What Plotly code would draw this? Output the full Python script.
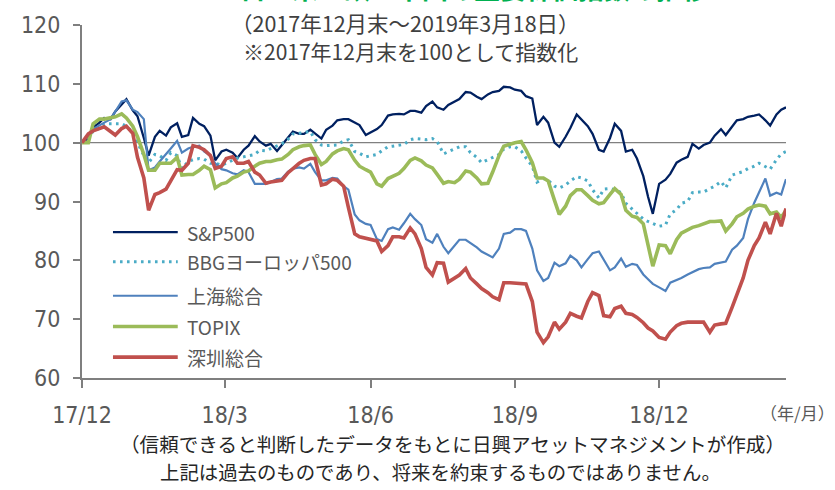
import plotly.graph_objects as go

dates = [
    "2017-12-29", "2018-01-02", "2018-01-05", "2018-01-09", "2018-01-12", "2018-01-16",
    "2018-01-19", "2018-01-23", "2018-01-26", "2018-01-30", "2018-02-02", "2018-02-06",
    "2018-02-09", "2018-02-13", "2018-02-16", "2018-02-20", "2018-02-23", "2018-02-27",
    "2018-03-02", "2018-03-06", "2018-03-09", "2018-03-13", "2018-03-16", "2018-03-20",
    "2018-03-23", "2018-03-27", "2018-03-30", "2018-04-03", "2018-04-06", "2018-04-10",
    "2018-04-13", "2018-04-17", "2018-04-20", "2018-04-24", "2018-04-27", "2018-05-01",
    "2018-05-04", "2018-05-08", "2018-05-11", "2018-05-15", "2018-05-18", "2018-05-22",
    "2018-05-25", "2018-05-29", "2018-06-01", "2018-06-05", "2018-06-08", "2018-06-12",
    "2018-06-15", "2018-06-19", "2018-06-22", "2018-06-26", "2018-06-29", "2018-07-03",
    "2018-07-06", "2018-07-10", "2018-07-13", "2018-07-17", "2018-07-20", "2018-07-24",
    "2018-07-27", "2018-07-31", "2018-08-03", "2018-08-07", "2018-08-10", "2018-08-14",
    "2018-08-17", "2018-08-21", "2018-08-24", "2018-08-28", "2018-08-31", "2018-09-04",
    "2018-09-07", "2018-09-11", "2018-09-14", "2018-09-18", "2018-09-21", "2018-09-25",
    "2018-09-28", "2018-10-02", "2018-10-05", "2018-10-09", "2018-10-12", "2018-10-16",
    "2018-10-19", "2018-10-23", "2018-10-26", "2018-10-30", "2018-11-02", "2018-11-06",
    "2018-11-09", "2018-11-13", "2018-11-16", "2018-11-20", "2018-11-23", "2018-11-27",
    "2018-11-30", "2018-12-04", "2018-12-07", "2018-12-11", "2018-12-14", "2018-12-18",
    "2018-12-21", "2018-12-24", "2018-12-28", "2019-01-01", "2019-01-04", "2019-01-08",
    "2019-01-11", "2019-01-15", "2019-01-18", "2019-01-22", "2019-01-25", "2019-01-29",
    "2019-02-01", "2019-02-05", "2019-02-08", "2019-02-12", "2019-02-15", "2019-02-19",
    "2019-02-22", "2019-02-26", "2019-03-01", "2019-03-05", "2019-03-08", "2019-03-12",
    "2019-03-15", "2019-03-18",
]

sp500 = [
    100.0, 100.8, 102.6, 103.4, 104.2, 104.0, 105.3, 106.4, 107.4, 105.5, 104.5, 100.8,
    97.8, 101.0, 102.0, 101.2, 102.6, 103.3, 101.0, 101.3, 104.2, 103.2, 102.8, 101.2,
    97.0, 98.5, 98.8, 98.3, 97.4, 98.8, 99.5, 101.1, 100.2, 99.5, 99.8, 98.6,
    99.6, 101.0, 101.9, 101.5, 101.5, 102.2, 101.5, 100.7, 102.2, 102.9, 103.8, 104.0,
    104.0, 103.4, 103.0, 101.3, 101.7, 102.3, 103.0, 104.6, 104.8, 104.9, 104.8, 105.4,
    105.4, 105.1, 106.2, 107.0, 106.0, 105.6, 106.4, 107.0, 107.4, 108.6, 108.5, 107.8,
    107.4, 108.2, 108.6, 108.8, 109.5, 109.4, 109.0, 108.8, 107.9, 107.5, 103.0, 104.4,
    103.4, 100.0, 99.3, 101.0, 102.5, 104.8, 104.0, 102.8, 101.5, 98.8, 98.5, 100.8,
    103.2, 102.0, 98.5, 98.8, 97.3, 94.3, 90.8, 87.9, 93.0, 93.7, 94.7, 96.6,
    97.1, 97.6, 99.8, 99.0, 99.6, 100.0, 101.2, 102.3, 101.3, 102.8, 103.8, 104.0,
    104.4, 104.6, 104.8, 103.8, 102.9, 104.8, 105.6, 106.0,
]

bbg_europe = [
    100.0, 100.6, 102.0, 102.4, 103.2, 103.2, 103.3, 103.2, 102.8, 101.8, 100.0, 97.8,
    96.6, 98.0, 97.8, 97.0, 98.3, 97.8, 95.6, 96.8, 97.1, 97.3, 97.2, 96.5,
    96.5, 96.2, 96.5, 97.0, 97.4, 97.6, 97.8, 98.0, 98.7, 98.6, 99.0, 99.4,
    99.8, 100.6, 101.5, 101.6, 101.7, 101.9, 100.5, 99.6, 99.5, 99.6, 99.6, 100.3,
    100.5, 98.5, 98.2, 97.6, 97.8, 98.0, 98.6, 99.3, 99.4, 99.6, 99.7, 100.5,
    100.7, 100.6, 100.5, 100.7, 100.2, 98.1, 98.5, 98.9, 99.3, 99.3, 98.3, 97.5,
    96.6, 97.1, 97.5, 98.0, 98.9, 99.3, 99.3, 98.6, 97.4, 96.0, 93.3, 93.9,
    93.6, 92.6, 92.3, 92.8, 93.5, 94.2, 94.0, 93.5, 92.0, 90.6, 92.1, 92.2,
    92.0, 91.5, 89.7, 88.7, 88.0, 87.0, 86.6, 86.2, 85.8, 86.0, 87.9, 88.6,
    89.7, 90.0, 91.5, 91.6, 91.6, 92.2, 92.6, 93.4, 92.3, 94.5, 94.8, 95.1,
    95.6, 96.0, 96.5, 96.0, 95.5, 97.1, 98.1, 98.5,
]

shanghai = [
    100.0, 101.2, 102.3, 103.0, 103.4, 104.0, 105.2, 107.0, 107.2, 105.6, 105.2, 104.0,
    95.3, 95.8, 96.8, 98.0, 99.0, 100.3, 98.3, 99.0, 99.3, 99.5, 98.5, 97.8,
    96.5, 95.5, 95.3, 94.8, 94.6, 95.3, 95.0, 93.0, 93.0, 93.0, 93.3, 93.8,
    93.9, 95.1, 95.6, 95.8, 95.6, 96.4, 95.0, 93.6, 93.6, 94.0, 93.9, 92.6,
    92.0, 87.8, 86.8, 86.2, 86.0, 83.6, 83.3, 85.3, 85.6, 85.2, 86.3, 87.9,
    87.0, 86.0, 83.6, 83.0, 84.5, 82.3, 81.2, 82.6, 83.5, 83.5, 83.0, 82.2,
    81.5, 81.0, 80.5, 82.0, 84.5, 84.7, 85.3, 85.3, 85.0, 82.0, 78.3, 76.5,
    77.0, 79.6, 79.0, 79.5, 80.8, 80.0, 78.8, 80.2, 81.2, 81.5, 80.2, 78.3,
    78.8, 80.3, 78.9, 79.4, 79.2, 77.6, 76.8, 76.0, 75.4, 74.8, 76.2, 76.6,
    77.0, 77.6, 78.0, 78.5, 78.7, 78.8, 79.4, 79.6, 79.8, 81.8, 82.5, 83.8,
    87.0, 89.8, 91.5, 93.9, 91.0, 91.5, 91.2, 93.8,
]

topix = [
    100.0, 100.0, 103.2, 104.0, 104.0, 104.2, 104.4, 104.9, 104.2, 102.8, 101.0, 98.0,
    95.3, 95.3, 96.5, 96.5, 96.5, 97.5, 94.5, 94.6, 94.6, 95.3, 96.0, 95.4,
    92.3, 93.0, 93.2, 94.0, 94.3, 95.0, 95.2, 96.0, 96.5, 96.8, 96.8, 97.1,
    97.2, 98.0, 98.8, 99.3, 99.5, 99.6, 98.0, 96.3, 96.8, 98.1, 98.6, 99.0,
    98.8, 97.0, 96.0, 95.4, 95.0, 93.0, 92.6, 93.9, 94.3, 94.8, 95.6, 97.0,
    97.4, 96.9, 96.2, 95.7, 94.6, 93.1, 93.4, 93.2, 93.8, 95.2, 95.0, 94.0,
    93.0, 93.1, 95.0, 97.8, 99.4, 99.8, 100.0, 100.2, 98.8, 96.6, 94.0, 94.0,
    93.5, 90.2, 87.8, 89.2, 91.0, 92.0, 92.0, 91.0, 90.2, 89.6, 89.8, 91.2,
    92.2, 91.2, 88.5, 87.5, 87.3, 86.2, 82.3, 79.0, 82.6, 82.5, 81.1, 83.5,
    84.6, 85.2, 85.6, 85.9, 86.2, 86.6, 86.6, 86.7, 85.0, 86.2, 87.4, 88.0,
    88.7, 89.2, 89.4, 89.2, 87.9, 88.2, 87.3, 88.5,
]

shenzhen = [
    100.0, 101.5, 102.0, 102.4, 102.7, 101.9, 101.3, 102.4, 102.8, 101.6, 97.5, 94.0,
    88.5, 91.2, 91.5, 92.1, 93.5, 95.4, 95.3, 96.5, 99.5, 99.2, 98.8, 97.8,
    95.6, 96.0, 97.3, 97.6, 96.5, 96.5, 96.8, 95.0, 94.5, 93.1, 93.3, 93.4,
    93.6, 94.9, 95.6, 96.5, 97.0, 97.3, 97.3, 92.8, 93.0, 93.8, 93.6, 92.6,
    89.0, 84.5, 84.0, 83.8, 83.6, 83.3, 81.5, 82.5, 84.0, 84.0, 83.8, 85.5,
    84.5, 82.0, 78.8, 77.5, 79.6, 79.5, 76.3, 77.0, 77.5, 78.6, 77.0, 76.0,
    75.2, 74.5, 73.8, 73.3, 76.2, 76.2, 76.1, 76.1, 76.0, 73.0, 67.8, 66.0,
    67.0, 69.5, 68.3, 69.5, 71.0, 70.5, 70.2, 73.0, 74.5, 74.0, 70.6, 70.4,
    71.8, 72.2, 71.0, 70.8, 70.3, 69.4, 68.5, 68.0, 66.9, 66.6, 67.8, 68.9,
    69.3, 69.5, 69.5, 69.5, 69.5, 67.8, 69.0, 69.2, 69.3, 72.0, 74.3, 77.0,
    80.0, 82.5, 83.8, 86.5, 84.5, 88.0, 85.8, 88.8,
]

series_names = ["S&P500", "BBGヨーロッパ500", "上海総合", "TOPIX", "深圳総合"]
series_values = [sp500, bbg_europe, shanghai, topix, shenzhen]

tick_dates = ["2017-12-29", "2018-03-29", "2018-06-29", "2018-09-28", "2018-12-28"]
tick_labels = ["17/12", "18/3", "18/6", "18/9", "18/12"]
y_ticks = [60, 70, 80, 90, 100, 110, 120]

styles = [
    dict(color="#002060", width=2.3, dash="solid"),
    dict(color="#4BACC6", width=3, dash="2.6px,4.4px"),
    dict(color="#4F81BD", width=2.2, dash="solid"),
    dict(color="#9BBB59", width=3.6, dash="solid"),
    dict(color="#C0504D", width=3.6, dash="solid"),
]

fig = go.Figure()
for name, vals, st in zip(series_names, series_values, styles):
    fig.add_trace(go.Scatter(x=dates, y=vals, mode="lines", name=name,
                             line=dict(color=st["color"], width=st["width"], dash=st["dash"])))

tick_font = dict(family="Liberation Sans Narrow, DejaVu Sans Condensed, Arial Narrow, sans-serif",
                 size=23, color="#595959")

fig.update_layout(
    width=835, height=490,
    margin=dict(l=82, r=49, t=22, b=112),
    plot_bgcolor="white", paper_bgcolor="white",
    showlegend=False,
    xaxis=dict(type="date", range=[dates[0], dates[-1]], tickvals=tick_dates, ticktext=tick_labels,
               ticks="outside", ticklen=8, tickwidth=1.5, tickcolor="#7f7f7f",
               showline=True, linecolor="#7f7f7f", linewidth=2, showgrid=False, zeroline=False,
               tickfont=tick_font, ticklabelstandoff=7),
    yaxis=dict(range=[60, 120], tickvals=y_ticks, ticks="outside", ticklen=7, tickwidth=1.5,
               tickcolor="#7f7f7f", showline=True, linecolor="#7f7f7f", linewidth=2,
               showgrid=False, zeroline=False, tickfont=tick_font, ticklabelstandoff=8),
)

# reference line at 100
fig.add_shape(type="line", xref="paper", yref="y", x0=0, x1=1, y0=100, y1=100,
              line=dict(color="#808080", width=1.2), layer="below")

# manual legend
leg_y = [0.413, 0.329, 0.233, 0.146, 0.059]
for name, st, yy in zip(series_names, styles, leg_y):
    fig.add_shape(type="line", xref="paper", yref="paper", x0=0.044, x1=0.136, y0=yy, y1=yy,
                  line=dict(color=st["color"], width=st["width"], dash=st["dash"]))
    fig.add_annotation(text=name, xref="paper", yref="paper", x=0.146, y=yy, xanchor="left",
                       yanchor="middle", showarrow=False,
                       font=dict(family="Noto Sans CJK JP", size=19, color="#595959"))

jp_font = "Noto Sans CJK JP"
# partially visible title (clipped at top, as in the reference)
fig.add_annotation(text="<b>日・米・欧・中国の主要株価指数の推移</b>", xref="paper", yref="paper",
                   x=0.557, y=1.047, xanchor="center", yanchor="bottom", showarrow=False,
                   font=dict(family=jp_font, size=26, color="#00B050"))
fig.add_annotation(text="（2017年12月末～2019年3月18日）", xref="paper", yref="paper",
                   x=0.460, y=1.0084, xanchor="center", yanchor="middle", showarrow=False,
                   font=dict(family=jp_font, size=21.5, color="#404040"))
fig.add_annotation(text="※2017年12月末を100として指数化", xref="paper", yref="paper",
                   x=0.466, y=0.927, xanchor="center", yanchor="middle", showarrow=False,
                   font=dict(family=jp_font, size=21, color="#404040"))
fig.add_annotation(text="（年/月）", xref="paper", yref="paper",
                   x=1.016, y=-0.098, xanchor="center", yanchor="middle", showarrow=False,
                   font=dict(family=jp_font, size=17, color="#595959"))
fig.add_annotation(text="（信頼できると判断したデータをもとに日興アセットマネジメントが作成）",
                   xref="paper", yref="paper", x=0.526, y=-0.1855, xanchor="center",
                   yanchor="middle", showarrow=False,
                   font=dict(family=jp_font, size=19.6, color="#262626"))
fig.add_annotation(text="上記は過去のものであり、将来を約束するものではありません。",
                   xref="paper", yref="paper", x=0.509, y=-0.2640, xanchor="center",
                   yanchor="middle", showarrow=False,
                   font=dict(family=jp_font, size=19.4, color="#262626"))

fig.write_html("out.html", config={"displayModeBar": False},
               post_script="document.body.style.margin='0';")
